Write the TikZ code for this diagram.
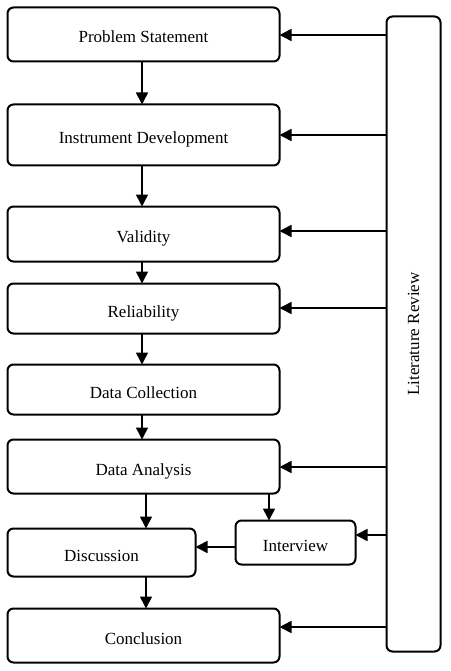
\documentclass[tikz,border=0pt]{standalone}
\usepackage{fontspec}
\setmainfont{Liberation Serif}
\usetikzlibrary{arrows.meta}
\begin{document}
\begin{tikzpicture}[x=1pt,y=-1pt,
  box/.style={draw=black, line width=2pt, rounded corners=6pt, fill=white,
    inner sep=0pt, outer sep=0pt, font=\fontsize{17}{20}\selectfont, align=center,
    text height=18pt, text depth=1pt},
  arr/.style={draw=black, line width=1.6pt, -{Triangle[length=12pt,width=12pt]}}
]
\useasboundingbox (0,0) rectangle (450,671);
\node[box, minimum width=272pt, minimum height=54pt] (ps) at (143.5,34.5) {Problem Statement};
\node[box, minimum width=272pt, minimum height=61pt] (id) at (143.5,135) {Instrument Development};
\node[box, minimum width=272pt, minimum height=55pt] (va) at (143.5,234) {Validity};
\node[box, minimum width=272pt, minimum height=50pt] (re) at (143.5,308.5) {Reliability};
\node[box, minimum width=272pt, minimum height=50pt] (dc) at (143.5,389.5) {Data Collection};
\node[box, minimum width=272pt, minimum height=54pt] (da) at (143.5,466.5) {Data Analysis};
\node[box, minimum width=188pt, minimum height=48pt] (di) at (101.5,552.5) {Discussion};
\node[box, minimum width=120pt, minimum height=44pt] (iv) at (295.5,542.5) {Interview};
\node[box, minimum width=272pt, minimum height=54pt] (co) at (143.5,635.5) {Conclusion};
\node[box, minimum width=54pt, minimum height=635pt] (lr) at (413.5,334) {};
\node[font=\fontsize{17}{20}\selectfont, rotate=90] (lrt) at (lr.center) {Literature Review};

\draw[arr] (ps.south -| 142,0) -- (id.north -| 142,0);
\draw[arr] (id.south -| 142,0) -- (va.north -| 142,0);
\draw[arr] (va.south -| 142,0) -- (re.north -| 142,0);
\draw[arr] (re.south -| 142,0) -- (dc.north -| 142,0);
\draw[arr] (dc.south -| 142,0) -- (da.north -| 142,0);
\draw[arr] (da.south -| 146,0) -- (di.north -| 146,0);
\draw[arr] (da.south -| 269,0) -- (iv.north -| 269,0);
\draw[arr] (iv.west |- 0,547) -- (di.east |- 0,547);
\draw[arr] (di.south -| 146,0) -- (co.north -| 146,0);

\draw[arr] (lr.west |- 0,35) -- (ps.east |- 0,35);
\draw[arr] (lr.west |- 0,135) -- (id.east |- 0,135);
\draw[arr] (lr.west |- 0,231) -- (va.east |- 0,231);
\draw[arr] (lr.west |- 0,308) -- (re.east |- 0,308);
\draw[arr] (lr.west |- 0,467) -- (da.east |- 0,467);
\draw[arr] (lr.west |- 0,535) -- (iv.east |- 0,535);
\draw[arr] (lr.west |- 0,627) -- (co.east |- 0,627);
\end{tikzpicture}
\end{document}
